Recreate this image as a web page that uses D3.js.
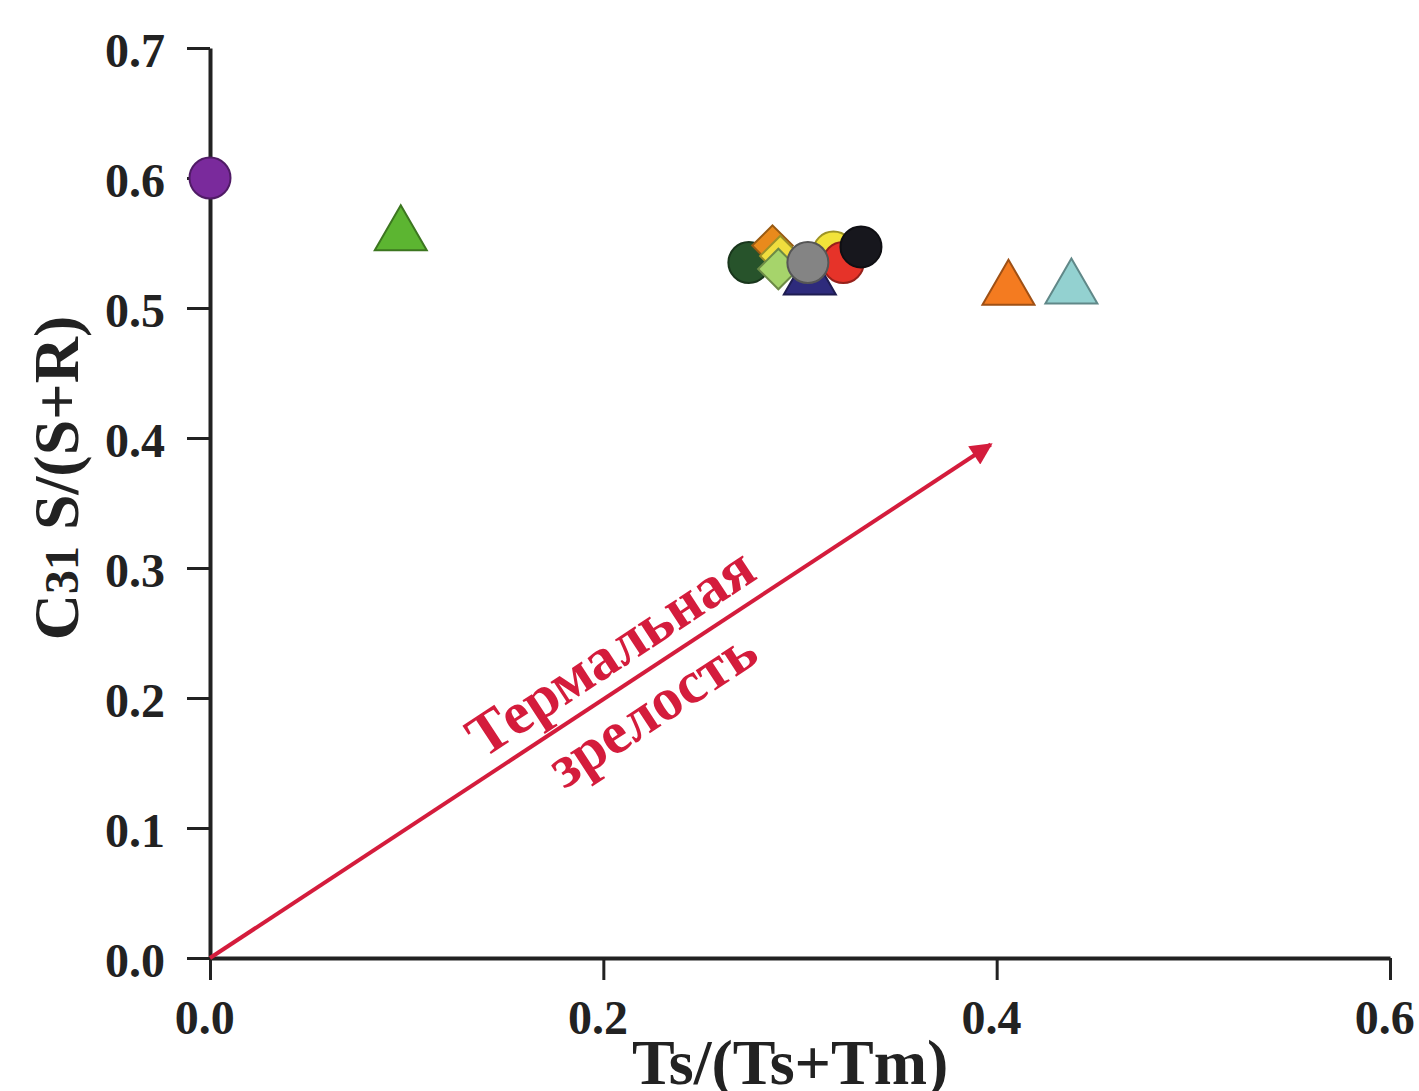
<!DOCTYPE html>
<html>
<head>
<meta charset="utf-8">
<script src="https://cdn.jsdelivr.net/npm/d3@7"></script>
<style>
  body { margin: 0; background: #fff; }
  svg { display: block; }
</style>
</head>
<body>
<div id="chart"></div>
<script>
// samples: x = Ts/(Ts+Tm), y = C31 S/(S+R)
const sampleX      = [0.0,    0.097,  0.406,  0.438,  0.317,  0.322,  0.331,  0.274,  0.286,  0.290,  0.289,  0.305,  0.304];
const sampleY      = [0.600,  0.556,  0.514,  0.515,  0.543,  0.535,  0.547,  0.535,  0.548,  0.540,  0.530,  0.522,  0.535];
const sampleShape  = ['circle','triangle','triangle','triangle','circle','circle','circle','circle','diamond','diamond','diamond','triangle','circle'];
const sampleColor  = ['#7a2a9c','#5cb531','#f47b20','#93d1d0','#f2e33a','#e63329','#17171d','#27532b','#e98a1c','#f0dd3e','#a6d46b','#2e2b7c','#848484'];
const xTicks = [0.0, 0.2, 0.4, 0.6];
const yTicks = [0.0, 0.1, 0.2, 0.3, 0.4, 0.5, 0.6, 0.7];
const arrowFrom = [0, 0];
const arrowTo = [0.397, 0.395];

const width = 1419, height = 1091;
const margin = { top: 48, right: 29, bottom: 133, left: 210 };
const W = width - margin.left - margin.right;
const H = height - margin.top - margin.bottom;
const font = '"Liberation Serif", "Times New Roman", serif';
const red = '#d41c3c';

const x = d3.scaleLinear().domain([0, 0.6]).range([0, W]);
const y = d3.scaleLinear().domain([0, 0.7]).range([H, 0]);

const svg = d3.select('#chart').append('svg')
  .attr('width', width).attr('height', height);
const g = svg.append('g').attr('transform', `translate(${margin.left},${margin.top})`);

// axes
const xAxis = g.append('g').attr('transform', `translate(0,${H})`)
  .call(d3.axisBottom(x).tickValues(xTicks).tickFormat(d3.format('.1f')).tickSize(22).tickSizeOuter(0).tickPadding(20));
const yAxis = g.append('g')
  .call(d3.axisLeft(y).tickValues(yTicks).tickFormat(d3.format('.1f')).tickSize(23).tickSizeOuter(0).tickPadding(22));
[xAxis, yAxis].forEach(a => {
  a.select('.domain').attr('stroke', '#222').attr('stroke-width', 4);
  a.selectAll('.tick line').attr('stroke', '#222').attr('stroke-width', 3);
  a.selectAll('text').attr('fill', '#222').attr('font-family', font)
    .attr('font-weight', 'bold').attr('font-size', '48px');
});
yAxis.selectAll('text').attr('dy', '0.38em');
xAxis.selectAll('text').attr('dx', '-0.12em');

// axis titles
svg.append('text').attr('x', margin.left + x(0.295)).attr('y', 1084)
  .attr('text-anchor', 'middle').attr('font-family', font).attr('font-weight', 'bold')
  .attr('font-size', '64px').attr('fill', '#222').text('Ts/(Ts+Tm)');

const yt = svg.append('text').attr('transform', `translate(78,478) rotate(-90)`)
  .attr('text-anchor', 'middle').attr('font-family', font).attr('font-weight', 'bold')
  .attr('font-size', '64px').attr('fill', '#222');
yt.append('tspan').text('C');
yt.append('tspan').attr('font-size', '48px').text('31');
yt.append('tspan').text(' S/(S+R)');

// arrow
svg.append('defs').append('marker')
  .attr('id', 'head').attr('viewBox', '0 0 10 10').attr('refX', 9).attr('refY', 5)
  .attr('markerWidth', 34).attr('markerHeight', 22).attr('markerUnits', 'userSpaceOnUse')
  .attr('orient', 'auto')
  .append('path').attr('d', 'M0,0 L10,5 L0,10 Z').attr('fill', red);

const ax0 = x(arrowFrom[0]), ay0 = y(arrowFrom[1]);
const ax1 = x(arrowTo[0]), ay1 = y(arrowTo[1]);
g.append('line')
  .attr('x1', ax0).attr('y1', ay0).attr('x2', ax1).attr('y2', ay1)
  .attr('stroke', red).attr('stroke-width', 4).attr('marker-end', 'url(#head)');

// label along the arrow
const ang = Math.atan2(ay1 - ay0, ax1 - ax0) * 180 / Math.PI;
const len = Math.hypot(ax1 - ax0, ay1 - ay0);
const lab = g.append('g').attr('transform', `translate(${ax0},${ay0}) rotate(${ang})`)
  .attr('font-family', font).attr('font-weight', 'bold')
  .attr('font-size', '60px').attr('fill', red).attr('text-anchor', 'middle');
lab.append('text').attr('x', len * 0.538).attr('y', -16).text('Термальная');
lab.append('text').attr('x', len * 0.542).attr('y', 54).text('зрелость');

// points
const symType = { circle: d3.symbolCircle, triangle: d3.symbolTriangle, diamond: d3.symbolSquare };
const symSize = { circle: 1320, triangle: 1170, diamond: 820 };
const points = sampleX.map((v, i) => ({ x: v, y: sampleY[i], shape: sampleShape[i], color: sampleColor[i] }));

g.selectAll('.pt').data(points).join('path')
  .attr('class', 'pt')
  .attr('transform', d => `translate(${x(d.x)},${y(d.y)})${d.shape === 'diamond' ? ' rotate(45)' : ''}`)
  .attr('d', d => d3.symbol().type(symType[d.shape]).size(symSize[d.shape])())
  .attr('fill', d => d.color)
  .attr('stroke', d => d3.color(d.color).darker(1.2))
  .attr('stroke-width', 2);
</script>
</body>
</html>
